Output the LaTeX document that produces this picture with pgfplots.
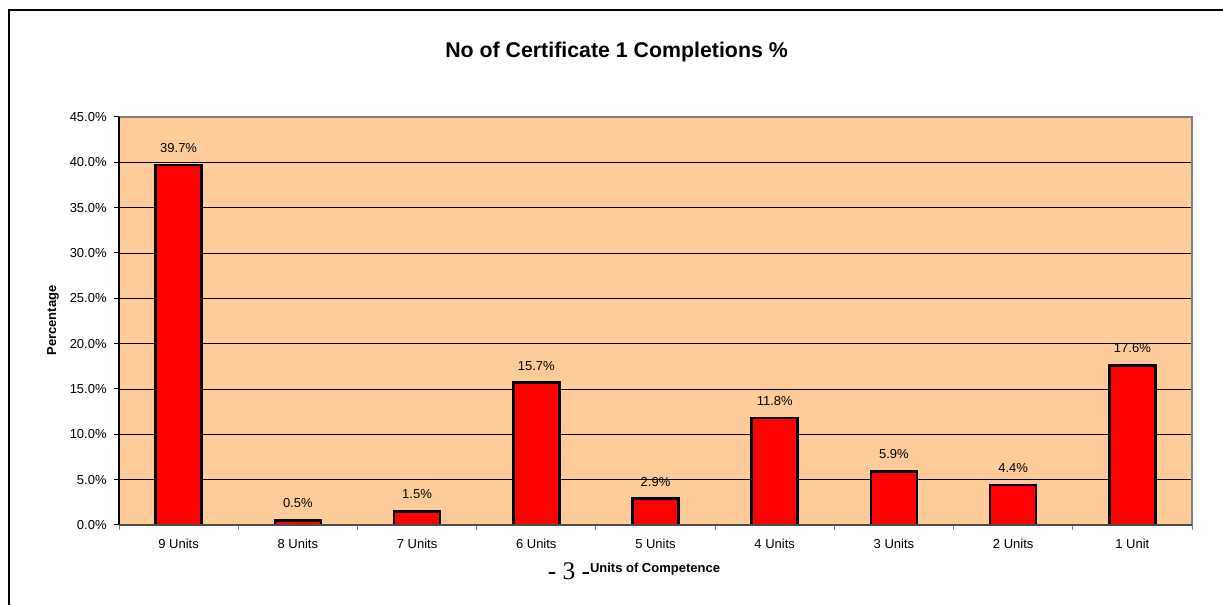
\documentclass[border=0pt]{standalone}
\usepackage{fontspec}
\setmainfont{Liberation Sans}
\newfontfamily\timesfont{Liberation Serif}
\usepackage{pgfplots}
\pgfplotsset{compat=1.18}
\definecolor{peach}{HTML}{FFCC99}
\definecolor{axgray}{HTML}{808080}
\pgfplotsset{/pgf/number format/assume math mode=true}
\begin{document}
\begin{tikzpicture}
\useasboundingbox (0,0) rectangle (917.25pt,453.75pt);
\draw[line width=1.5pt] (6.75pt,-10pt) -- (6.75pt,446.25pt) -- (940pt,446.25pt);
\begin{axis}[
  name=ax, at={(89.25pt,60pt)}, anchor=south west,
  scale only axis, width=804.75pt, height=306pt,
  xmin=-0.5, xmax=8.5, ymin=0, ymax=45,
  ybar, bar width=34.5pt,
  axis line style={draw=none},
  axis background/.style={fill=peach},
  xtick pos=bottom, ytick pos=left,
  ytick={0,5,...,45},
  yticklabel={\pgfmathprintnumber[fixed,fixed zerofill,precision=1]{\tick}\%},
  yticklabel style={font=\fontsize{9.75}{11}\selectfont, xshift=-2pt},
  ytick style={black, line width=0.75pt},
  xtick={-0.5,0.5,...,8.5},
  xticklabels={9 Units,8 Units,7 Units,6 Units,5 Units,4 Units,3 Units,2 Units,1 Unit,{}},
  xticklabel style={font=\fontsize{9.75}{11}\selectfont, xshift=44.7pt, yshift=-3.5pt},
  xtick style={axgray, line width=0.75pt},
  tick align=outside, major tick length=3.75pt,
  ymajorgrids, grid style={black, line width=0.6pt},
  nodes near coords={\pgfmathprintnumber[fixed,fixed zerofill,precision=1]{\pgfplotspointmeta}\%},
  every node near coord/.append style={font=\fontsize{9.75}{11}\selectfont, anchor=center, yshift=12.75pt, black},
  clip=false,
]
\addplot[fill=red, draw=black, line width=1.9pt] coordinates {
  (0,39.7) (1,0.5) (2,1.5) (3,15.7) (4,2.9) (5,11.8) (6,5.9) (7,4.4) (8,17.6)};
\end{axis}
\draw[axgray, line width=1.5pt] (ax.south east) -- (ax.north east) -- (ax.north west);
\draw[black, line width=1pt] (ax.north west) -- (ax.south west);
\draw[axgray!60!black, line width=1pt] (ax.south west) -- (ax.south east);
\node[font=\fontsize{16}{19}\selectfont\bfseries] at (462.4pt,414.75pt) {No of Certificate 1 Completions \%};
\node[font=\fontsize{9.75}{11}\selectfont\bfseries, rotate=90] at (39.75pt,213.4pt) {Percentage};
\node[font=\timesfont\fontsize{19}{22}\selectfont, anchor=base] at (426.75pt,18.75pt) {- 3 -};
\node[font=\fontsize{9.75}{11}\selectfont\bfseries] at (491.25pt,27.2pt) {Units of Competence};
\end{tikzpicture}
\end{document}
